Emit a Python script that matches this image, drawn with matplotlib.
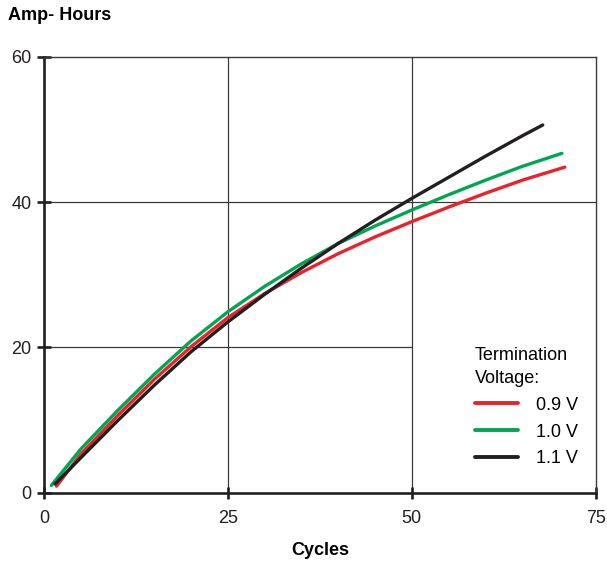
import matplotlib.pyplot as plt

plt.rcParams["font.family"] = ["Liberation Sans Narrow", "Liberation Sans", "DejaVu Sans"]

# -----------------------------
# Data
# -----------------------------
cycles_09 = [1.7, 5, 10, 15, 20, 25, 30, 35, 40, 45, 50, 55, 60, 65, 70.8]
ah_09 = [0.9, 5.3, 10.6, 15.6, 20.1, 24.1, 27.4, 30.3, 32.9, 35.2, 37.3, 39.3, 41.2, 43.0, 44.8]

cycles_10 = [1.0, 5, 10, 15, 20, 25, 30, 35, 40, 45, 50, 55, 60, 65, 70.4]
ah_10 = [1.0, 6.0, 11.3, 16.3, 20.9, 24.9, 28.4, 31.5, 34.3, 36.7, 38.9, 41.0, 43.0, 44.9, 46.7]

cycles_11 = [1.5, 5, 10, 15, 20, 25, 30, 35, 40, 45, 50, 55, 60, 65, 67.8]
ah_11 = [1.2, 4.8, 9.9, 14.8, 19.4, 23.5, 27.3, 30.9, 34.3, 37.5, 40.5, 43.4, 46.3, 49.1, 50.6]

labels = ["0.9 V", "1.0 V", "1.1 V"]
colors = ["#e8232a", "#00a651", "#231f20"]

x_ticks = [0, 25, 50, 75]
y_ticks = [0, 20, 40, 60]

fig = plt.figure(figsize=(6.07, 5.63), dpi=100)
ax = fig.add_axes([0.0725, 0.1249, 0.9089, 0.7744])

ax.set_xlim(0, 75)
ax.set_ylim(0, 60)

# grid (the 20 line stops where the legend sits)
grid_kw = dict(color="#3a3a3a", linewidth=0.9, zorder=1)
ax.axvline(25, **grid_kw)
ax.axvline(50, **grid_kw)
ax.axhline(40, **grid_kw)
ax.hlines(20, 0, 50, **grid_kw)

series = [(cycles_09, ah_09), (cycles_10, ah_10), (cycles_11, ah_11)]
for (xs, ys), lab, col in zip(series, labels, colors):
    ax.plot(xs, ys, color=col, linewidth=2.4, label=lab,
            solid_capstyle="round", solid_joinstyle="round", zorder=3)

for side in ["left", "bottom"]:
    ax.spines[side].set_linewidth(1.9)
    ax.spines[side].set_color("#231f20")
for side in ["top", "right"]:
    ax.spines[side].set_linewidth(1.0)
    ax.spines[side].set_color("#3a3a3a")

ax.set_xticks(x_ticks)
ax.set_yticks(y_ticks)
ax.tick_params(axis="x", direction="inout", length=9, width=1.9,
               pad=8, labelsize=13, colors="#231f20")
ax.tick_params(axis="y", direction="inout", length=10, width=1.9,
               pad=4, labelsize=13, colors="#231f20")

ax.set_xlabel("Cycles", fontsize=13, fontweight="bold", labelpad=11)
fig.text(0.013, 0.973, "Amp- Hours", fontsize=13, fontweight="bold",
         ha="left", va="center")

leg = ax.legend(title="Termination\nVoltage:", loc="upper left",
                bbox_to_anchor=(0.781, 0.333), frameon=False, fontsize=13,
                title_fontsize=13, alignment="left", handlelength=2.4,
                handletextpad=1.0, labelspacing=0.55, borderpad=0,
                borderaxespad=0)
leg.get_title().set_linespacing(1.4)
for line in leg.get_lines():
    line.set_linewidth(2.8)

fig.savefig("out.png", dpi=100)
